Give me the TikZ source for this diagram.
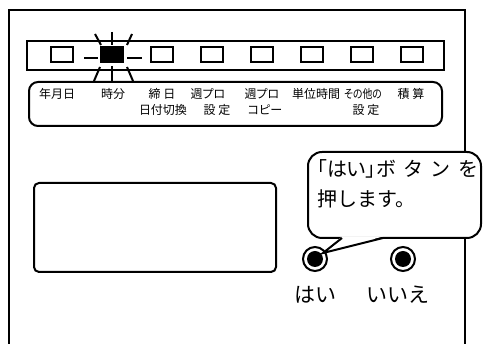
\documentclass[tikz,border=0pt]{standalone}
\usepackage{graphicx}
\usepackage{fontspec}
\setmainfont{Noto Sans CJK JP}
\newfontfamily\jpp[RawFeature=+palt]{Noto Sans CJK JP}
\begin{document}
\begin{tikzpicture}[x=1pt, y=-1pt, line width=2pt,
  every node/.style={inner sep=0pt},
  led/.style={draw, minimum width=22pt, minimum height=15pt},
  lbl/.style={font=\jpp\fontsize{12}{14}\selectfont},
  btn/.style={circle, draw, fill=white, minimum size=24pt}]
  \useasboundingbox (0,0) rectangle (483,344);
  \draw (9,344) -- (9,10) -- (465,10) -- (465,344);
  % lamp row
  \node[draw, minimum width=417pt, minimum height=29pt] (bar) at (235.5,55.5) {};
  \foreach \x [count=\i] in {62,112,...,412} \node[led] (led\i) at (\x,55) {};
  \fill (led2.south west) rectangle (led2.north east);
  \foreach \xa/\ya/\xb/\yb in {112/32/112/45, 95/34/101/45, 132/34/127/45, 84/58/98/58, 127/58/142/58, 112/66/112/81, 100/67/94/81, 127/67/133/81}
    \draw (\xa,\ya) -- (\xb,\yb);
  % key labels
  \node[draw, rounded corners=9pt, minimum width=413pt, minimum height=44pt] (panel) at (235.5,104) {};
  \foreach \x/\t [count=\i] in {57/年月日, 113/時分, 162/締 日, 208/週プロ, 262/週プロ, 316/単位時間, 363/\scalebox{0.82}[1]{その他の}, 411/積 算}
    \node[lbl] (top\i) at (\x,94) {\t};
  \foreach \x/\t [count=\i] in {163/日付切換, 217/設 定, 265/コピー, 366/設 定}
    \node[lbl] (sub\i) at (\x,110) {\t};
  % display
  \node[draw, rounded corners=5pt, minimum width=242pt, minimum height=89pt] (screen) at (155,227.5) {};
  % balloon
  \draw[fill=white, rounded corners=14pt] (308,152) rectangle (481,238);
  \node[anchor=north west, align=left, font=\fontsize{20}{30}\selectfont] (msg) at (316,159)
    {{\jpp 「はい」}\hspace{1pt}ボ\hspace{7pt}タ\hspace{7pt}ン\hspace{8pt}を\\押します。};
  \coordinate (tip) at (323,253);
  \fill[white] (342,236.5) -- (383,236.5) -- (tip) -- cycle;
  % buttons
  \node[btn] (hai) at (315,259) {};
  \node[btn] (iie) at (403,259) {};
  \fill (hai.center) circle (8);
  \fill (iie.center) circle (8);
  \draw (342,238) -- (tip) -- (383,238);
  \node[font=\fontsize{21}{22}\selectfont] (hai-t) at (315,295) {はい};
  \node[font=\fontsize{21}{22}\selectfont] (iie-t) at (398,295) {いいえ};
\end{tikzpicture}
\end{document}
